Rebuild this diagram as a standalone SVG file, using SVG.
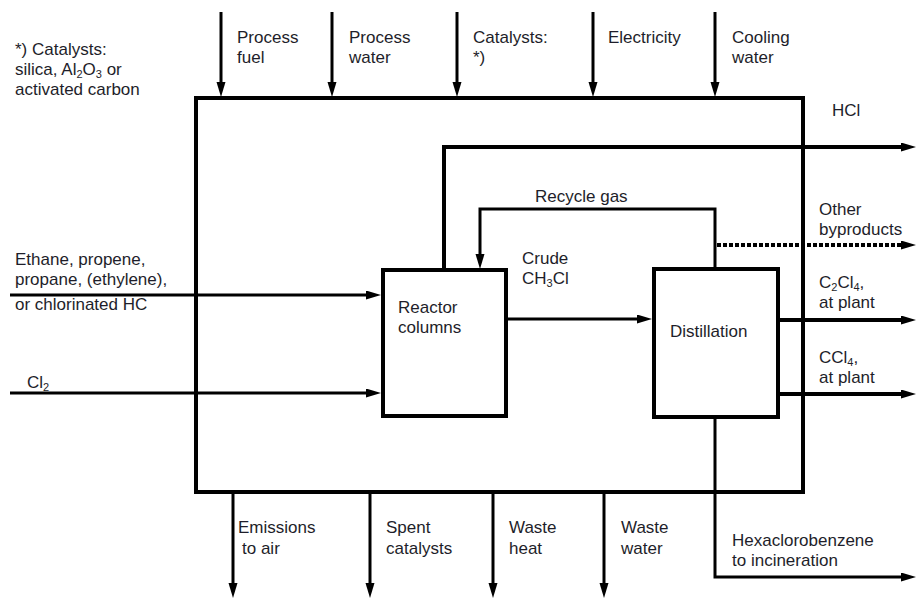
<svg xmlns="http://www.w3.org/2000/svg" width="916" height="598" viewBox="0 0 916 598">
  <defs>
    <!-- slim filled arrowhead; path ends at the base, head extends beyond -->
    <marker id="head" markerUnits="userSpaceOnUse" markerWidth="16" markerHeight="10" refX="0" refY="4.5" orient="auto">
      <path d="M0,0 L15,4.5 L0,9 z" fill="#000"/>
    </marker>
  </defs>
  <style>
    text { font-family: "Liberation Sans", Arial, sans-serif; font-size: 17px; fill: #1e1e2a; }
    .box { fill: none; stroke: #000; stroke-width: 4; }
    .flow { fill: none; stroke: #000; stroke-width: 3; marker-end: url(#head); }
    .thick { stroke-width: 4; }
    .dot { stroke-dasharray: 4 2; }
    .sub { font-size: 11px; }
  </style>

  <rect width="916" height="598" fill="#fff"/>

  <!-- plant boundary -->
  <g id="plant">
    <rect class="box" x="196" y="98" width="607" height="394"/>
  </g>

  <!-- process units -->
  <g id="reactor">
    <rect class="box" x="383" y="270" width="123" height="146"/>
    <text x="398" y="313">Reactor</text>
    <text x="398" y="333">columns</text>
  </g>
  <g id="distillation">
    <rect class="box" x="654" y="269" width="124" height="148"/>
    <text x="670" y="337">Distillation</text>
  </g>

  <g id="connectors">
    <!-- utilities entering from the top -->
    <path class="flow" d="M221,12 V82"/>
    <path class="flow" d="M332,12 V82"/>
    <path class="flow" d="M457,12 V82"/>
    <path class="flow" d="M593,12 V82"/>
    <path class="flow" d="M715,12 V82"/>
    <!-- feeds -->
    <path class="flow" d="M10,295 H366"/>
    <path class="flow" d="M10,393 H366"/>
    <!-- HCl off the reactor -->
    <path class="flow thick" d="M444,270 V147 H901"/>
    <!-- recycle gas loop -->
    <path class="flow" d="M715,269 V209 H480 V254"/>
    <!-- crude product to distillation -->
    <path class="flow" d="M506,319 H637"/>
    <!-- products -->
    <path class="flow thick dot" d="M717,245 H901"/>
    <path class="flow thick" d="M778,320 H901"/>
    <path class="flow thick" d="M778,394 H901"/>
    <path class="flow" d="M715,417 V577 H901"/>
    <!-- releases at the bottom -->
    <path class="flow" d="M233,494 V583"/>
    <path class="flow" d="M370,494 V583"/>
    <path class="flow" d="M493,494 V583"/>
    <path class="flow" d="M604,494 V583"/>
  </g>

  <g id="labels">
    <text x="15" y="55">*) Catalysts:</text>
    <text x="15" y="75">silica, Al<tspan class="sub" dy="3">2</tspan><tspan dy="-3">O</tspan><tspan class="sub" dy="3">3</tspan><tspan dy="-3"> or</tspan></text>
    <text x="15" y="95">activated carbon</text>

    <text x="237" y="43">Process</text>
    <text x="237" y="63">fuel</text>
    <text x="349" y="43">Process</text>
    <text x="349" y="63">water</text>
    <text x="473" y="43">Catalysts:</text>
    <text x="473" y="63">*)</text>
    <text x="608" y="43">Electricity</text>
    <text x="732" y="43">Cooling</text>
    <text x="732" y="63">water</text>

    <text x="832" y="116">HCl</text>
    <text x="535" y="202">Recycle gas</text>
    <text x="819" y="215">Other</text>
    <text x="819" y="235">byproducts</text>
    <text x="522" y="264">Crude</text>
    <text x="522" y="284">CH<tspan class="sub" dy="3">3</tspan><tspan dy="-3">Cl</tspan></text>
    <text x="819" y="288">C<tspan class="sub" dy="3">2</tspan><tspan dy="-3">Cl</tspan><tspan class="sub" dy="3">4</tspan><tspan dy="-3">,</tspan></text>
    <text x="819" y="308">at plant</text>
    <text x="819" y="363">CCl<tspan class="sub" dy="3">4</tspan><tspan dy="-3">,</tspan></text>
    <text x="819" y="383">at plant</text>

    <text x="15" y="265">Ethane, propene,</text>
    <text x="15" y="285">propane, (ethylene),</text>
    <text x="15" y="310">or chlorinated HC</text>
    <text x="27" y="388">Cl<tspan class="sub" dy="3">2</tspan></text>

    <text x="238" y="533">Emissions</text>
    <text x="242" y="554">to air</text>
    <text x="386" y="533">Spent</text>
    <text x="386" y="554">catalysts</text>
    <text x="509" y="533">Waste</text>
    <text x="509" y="554">heat</text>
    <text x="621" y="533">Waste</text>
    <text x="621" y="554">water</text>
    <text x="732" y="546">Hexaclorobenzene</text>
    <text x="732" y="566">to incineration</text>
  </g>
</svg>
